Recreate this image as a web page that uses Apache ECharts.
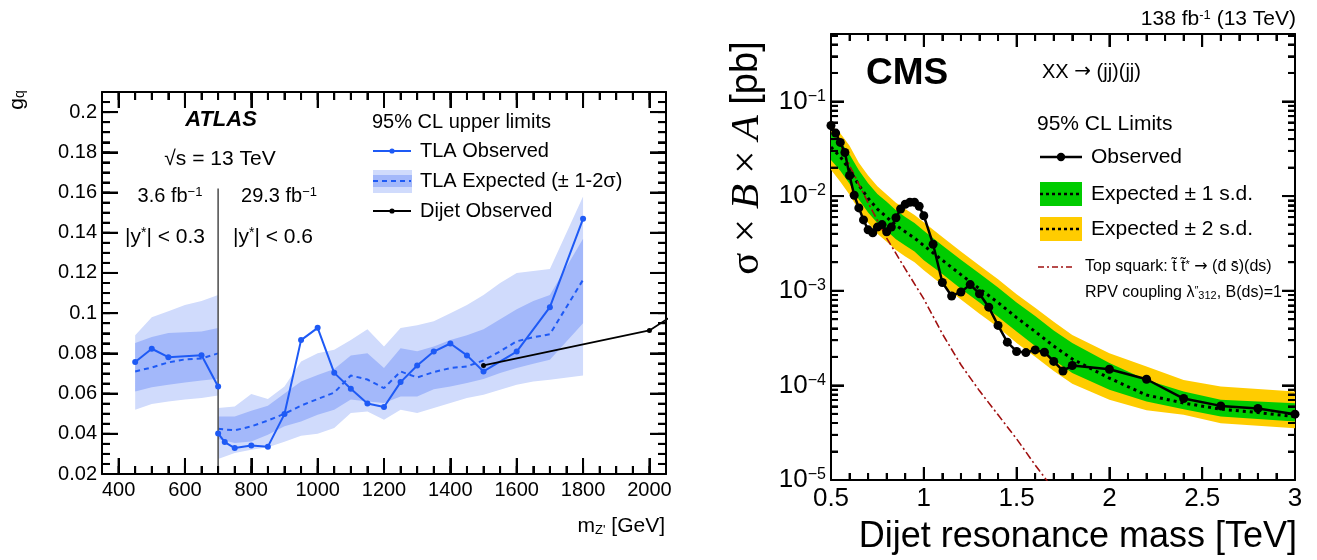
<!DOCTYPE html>
<html><head><meta charset="utf-8">
<script src="https://cdn.jsdelivr.net/npm/echarts@6/dist/echarts.min.js"></script>
<style>html,body{margin:0;padding:0;background:#fff}#c{width:1317px;height:560px}</style>
</head><body><div id="c"></div>
<script>
// ---------------- LEFT PANEL (ATLAS) DATA ----------------
const leftXRange = [350, 2050];
const leftYRange = [0.02, 0.21];
const leftXTicks = [400, 600, 800, 1000, 1200, 1400, 1600, 1800, 2000];
const leftYTicks = [0.02, 0.04, 0.06, 0.08, 0.1, 0.12, 0.14, 0.16, 0.18, 0.2];
const leftXMinor = [400,450,500,550,600,650,700,750,800,850,900,950,1000,1050,1100,1150,1200,1250,1300,1350,1400,1450,1500,1550,1600,1650,1700,1750,1800,1850,1900,1950,2000];
const leftYMinor = [0.025,0.03,0.035,0.04,0.045,0.05,0.055,0.06,0.065,0.07,0.075,0.08,0.085,0.09,0.095,0.1,0.105,0.11,0.115,0.12,0.125,0.13,0.135,0.14,0.145,0.15,0.155,0.16,0.165,0.17,0.175,0.18,0.185,0.19,0.195,0.2,0.205];

// TLA observed, 3.6 fb-1 region
const tlaObsX1 = [450, 500, 550, 650, 700];
const tlaObsY1 = [0.0757, 0.0823, 0.0781, 0.0791, 0.0635];
// TLA observed, 29.3 fb-1 region
const tlaObsX2 = [700, 720, 750, 800, 850, 900, 950, 1000, 1050, 1100, 1150, 1200, 1250, 1300, 1350, 1400, 1450, 1500, 1600, 1700, 1800];
const tlaObsY2 = [0.0402, 0.0359, 0.0329, 0.0342, 0.0336, 0.0498, 0.0866, 0.0927, 0.0703, 0.0624, 0.0551, 0.0533, 0.0657, 0.0740, 0.0809, 0.0849, 0.0790, 0.0710, 0.0809, 0.1030, 0.1469];

// TLA expected and bands, region 1
const tlaExpX1 = [450, 500, 550, 600, 650, 700];
const tlaExp1 = [0.071, 0.073, 0.0755, 0.077, 0.0775, 0.080];
const tlaS1hi1 = [0.0851, 0.0881, 0.0901, 0.0905, 0.0909, 0.0926];
const tlaS1lo1 = [0.0610, 0.0632, 0.0644, 0.0655, 0.0665, 0.0674];
const tlaS2hi1 = [0.089, 0.098, 0.101, 0.104, 0.106, 0.109];
const tlaS2lo1 = [0.052, 0.0548, 0.0561, 0.057, 0.0578, 0.0591];

// TLA expected and bands, region 2
const tlaExpX2 = [700, 750, 800, 850, 900, 950, 1000, 1050, 1100, 1150, 1200, 1250, 1300, 1350, 1400, 1450, 1500, 1550, 1600, 1650, 1700, 1800];
const tlaExp2 = [0.0425, 0.0417, 0.0437, 0.0466, 0.050, 0.054, 0.0573, 0.0605, 0.069, 0.067, 0.0627, 0.071, 0.068, 0.0707, 0.0727, 0.0735, 0.0765, 0.081, 0.086, 0.088, 0.0895, 0.1166];
const tlaS1hi2 = [0.0486, 0.0486, 0.0515, 0.054, 0.060, 0.066, 0.0693, 0.0722, 0.079, 0.080, 0.0727, 0.0826, 0.081, 0.0834, 0.0867, 0.089, 0.092, 0.097, 0.102, 0.106, 0.109, 0.137];
const tlaS1lo2 = [0.0374, 0.0354, 0.0362, 0.0395, 0.0437, 0.0461, 0.0495, 0.052, 0.057, 0.056, 0.0553, 0.0586, 0.0586, 0.0622, 0.0635, 0.0652, 0.0672, 0.0702, 0.0727, 0.0748, 0.0768, 0.095];
const tlaS2hi2 = [0.0528, 0.0536, 0.0598, 0.0573, 0.0635, 0.076, 0.080, 0.0818, 0.0867, 0.092, 0.0834, 0.0926, 0.094, 0.096, 0.100, 0.104, 0.109, 0.115, 0.120, 0.121, 0.122, 0.158];
const tlaS2lo2 = [0.0275, 0.0304, 0.032, 0.0333, 0.036, 0.039, 0.040, 0.0429, 0.0503, 0.0511, 0.047, 0.052, 0.0503, 0.0528, 0.0553, 0.0578, 0.0594, 0.0619, 0.0644, 0.066, 0.0669, 0.069];

// Dijet observed
const dijetX = [1500, 2000, 2100];
const dijetY = [0.0740, 0.0914, 0.102];

// Region separator
const tlaSplitMass = 700;
const tlaSplitRange = [0.02, 0.162];

// ---------------- RIGHT PANEL (CMS) DATA ----------------
const rightXRange = [0.5, 3];
const rightYRange = [1e-5, 0.516];
const rightXTicks = [1, 1.5, 2, 2.5];
const rightXMinor = [0.6,0.7,0.8,0.9,1.1,1.2,1.3,1.4,1.6,1.7,1.8,1.9,2.1,2.2,2.3,2.4,2.6,2.7,2.8,2.9];
const rightYTicks = [1e-4, 1e-3, 1e-2, 1e-1];
const rightYMinor = [2e-5,3e-5,4e-5,5e-5,6e-5,7e-5,8e-5,9e-5,2e-4,3e-4,4e-4,5e-4,6e-4,7e-4,8e-4,9e-4,2e-3,3e-3,4e-3,5e-3,6e-3,7e-3,8e-3,9e-3,0.02,0.03,0.04,0.05,0.06,0.07,0.08,0.09,0.2,0.3,0.4,0.5];

const cmsObsX = [0.5,0.525,0.55,0.575,0.6,0.625,0.65,0.675,0.7,0.725,0.75,0.775,0.8,0.825,0.85,0.875,0.9,0.925,0.95,0.975,1.0,1.05,1.1,1.15,1.2,1.25,1.3,1.35,1.4,1.45,1.5,1.55,1.6,1.65,1.7,1.75,1.8,2.0,2.2,2.4,2.6,2.8,3.0];
const cmsObsY = [0.0557,0.0463,0.0369,0.0289,0.0165,0.0102,0.0075,0.0056,0.0044,0.0041,0.0047,0.0050,0.0042,0.0047,0.0059,0.0073,0.0082,0.0086,0.0086,0.0078,0.0062,0.0031,0.00122,0.00088,0.00097,0.00116,0.00093,0.00067,0.00043,0.000286,0.000228,0.000222,0.000237,0.000224,0.000179,0.000142,0.000162,0.000148,0.000116,0.0000726,0.0000607,0.0000569,0.0000496];

const cmsBandX = [0.5,0.55,0.6,0.65,0.7,0.75,0.8,0.85,0.9,0.95,1.0,1.1,1.2,1.3,1.4,1.5,1.6,1.7,1.8,2.0,2.2,2.4,2.6,2.8,3.0];
const cmsExp  = [0.033,0.026,0.019,0.013,0.0095,0.0073,0.0060,0.0049,0.0042,0.0036,0.0030,0.0021,0.00148,0.00105,0.00075,0.00052,0.00037,0.00026,0.00019,0.000119,0.000079,0.000065,0.000056,0.0000516,0.0000468];
const cmsS1hi = [0.047,0.038,0.0275,0.0188,0.0137,0.0105,0.0087,0.0071,0.0060,0.0052,0.0043,0.0030,0.00213,0.00152,0.00108,0.00075,0.00054,0.00038,0.00028,0.000172,0.000114,0.0000859,0.0000703,0.0000674,0.0000648];
const cmsS1lo = [0.024,0.0185,0.0135,0.0092,0.0067,0.0052,0.0043,0.0035,0.0030,0.0026,0.0021,0.0015,0.00105,0.00075,0.00053,0.00037,0.00026,0.000185,0.000135,0.0000896,0.0000674,0.000056,0.0000468,0.000044,0.0000414];
const cmsS2hi = [0.056,0.046,0.034,0.0225,0.0165,0.0127,0.0104,0.0085,0.0073,0.0063,0.0053,0.0037,0.0026,0.00185,0.00132,0.00092,0.00066,0.00047,0.00034,0.000218,0.000158,0.000114,0.000097,0.0000918,0.0000859];
const cmsS2lo = [0.019,0.0142,0.0103,0.0071,0.0052,0.0040,0.0033,0.0027,0.0023,0.0020,0.00165,0.00115,0.00081,0.00057,0.00041,0.00028,0.00020,0.000142,0.000104,0.0000703,0.0000546,0.0000488,0.0000398,0.0000374,0.0000353];

const stopX = [0.5,0.6,0.7,0.8,0.9,1.0,1.1,1.2,1.3,1.4,1.5,1.6,1.7];
const stopY = [0.0595,0.0209,0.0085,0.0036,0.0017,0.00082,0.00035,0.000165,0.0000875,0.0000488,0.0000272,0.0000144,0.0000079];

// ---------------- STYLE ----------------
const FONT = 'Liberation Sans, Arial, Helvetica, sans-serif';
const SERIF = 'Liberation Serif, Times New Roman, serif';
const SYM = 'DejaVu Sans, sans-serif';
const BLUE = '#1e5af5';
const LIGHT = '#d0dbfc';
const DARK = '#a3b8fa';
const GREEN = '#00cc00';
const YELLOW = '#ffcc00';
const RED = '#a01010';
const LEFT_GRID = { left: 102, top: 92, width: 564, height: 382 };
const RIGHT_GRID = { left: 831, top: 34, width: 464, height: 446 };

function pairs(xs, ys) { return xs.map((x, i) => [x, ys[i]]); }

function bandSeries(xi, yi, xs, lo, hi, color, z) {
  return {
    type: 'custom', xAxisIndex: xi, yAxisIndex: yi, silent: true, z: z,
    data: xs.map((x, i) => [x, lo[i], hi[i]]),
    renderItem: function (params, api) {
      if (params.dataIndex !== 0) return null;
      const pts = [];
      for (let i = 0; i < xs.length; i++) pts.push(api.coord([xs[i], hi[i]]));
      for (let i = xs.length - 1; i >= 0; i--) pts.push(api.coord([xs[i], lo[i]]));
      return { type: 'polygon', shape: { points: pts }, style: { fill: color } };
    }
  };
}

// tick marks as thin filled rectangles on all four sides, placed through the axis scales
function tickSeries(xi, yi, xr, yr, xMinor, xMajor, yMinor, yMajor, lenMinor, lenMajor, w) {
  return {
    type: 'custom', xAxisIndex: xi, yAxisIndex: yi, silent: true, z: 100,
    data: [[(xr[0] + xr[1]) / 2, yr[1]]],
    renderItem: function (params, api) {
      const bl = api.coord([xr[0], yr[0]]);
      const tr = api.coord([xr[1], yr[1]]);
      const ch = [];
      function xt(v, len) {
        const px = api.coord([v, yr[0]])[0];
        ch.push({ type: 'rect', shape: { x: px - w / 2, y: bl[1] - len, width: w, height: len }, style: { fill: '#000' } });
        ch.push({ type: 'rect', shape: { x: px - w / 2, y: tr[1], width: w, height: len }, style: { fill: '#000' } });
      }
      function yt(v, len) {
        const py = api.coord([xr[0], v])[1];
        ch.push({ type: 'rect', shape: { x: bl[0], y: py - w / 2, width: len, height: w }, style: { fill: '#000' } });
        ch.push({ type: 'rect', shape: { x: tr[0] - len, y: py - w / 2, width: len, height: w }, style: { fill: '#000' } });
      }
      xMinor.forEach(v => xt(v, lenMinor));
      xMajor.forEach(v => xt(v, lenMajor));
      yMinor.forEach(v => yt(v, lenMinor));
      yMajor.forEach(v => yt(v, lenMajor));
      return { type: 'group', children: ch };
    }
  };
}

// the same tick marks as short segments of a 'lines' series (lengths converted from pixels with the grid size)
function linearTickSegs(xr, yr, grid, xMinor, xMajor, yMinor, yMajor, lenMinor, lenMajor) {
  const dyPx = (yr[1] - yr[0]) / grid.height, dxPx = (xr[1] - xr[0]) / grid.width;
  const segs = [];
  function xt(v, len) { segs.push([[v, yr[0]], [v, yr[0] + len * dyPx]]); segs.push([[v, yr[1]], [v, yr[1] - len * dyPx]]); }
  function yt(v, len) { segs.push([[xr[0], v], [xr[0] + len * dxPx, v]]); segs.push([[xr[1], v], [xr[1] - len * dxPx, v]]); }
  xMinor.forEach(v => xt(v, lenMinor)); xMajor.forEach(v => xt(v, lenMajor));
  yMinor.forEach(v => yt(v, lenMinor)); yMajor.forEach(v => yt(v, lenMajor));
  return segs;
}
function logTickSegs(xr, yr, grid, xMinor, xMajor, yMinor, yMajor, lenMinor, lenMajor) {
  const decPx = grid.height / Math.log10(yr[1] / yr[0]), dxPx = (xr[1] - xr[0]) / grid.width;
  const segs = [];
  function xt(v, len) { const f = Math.pow(10, len / decPx); segs.push([[v, yr[0]], [v, yr[0] * f]]); segs.push([[v, yr[1]], [v, yr[1] / f]]); }
  function yt(v, len) { segs.push([[xr[0], v], [xr[0] + len * dxPx, v]]); segs.push([[xr[1], v], [xr[1] - len * dxPx, v]]); }
  xMinor.forEach(v => xt(v, lenMinor)); xMajor.forEach(v => xt(v, lenMajor));
  yMinor.forEach(v => yt(v, lenMinor)); yMajor.forEach(v => yt(v, lenMajor));
  return segs;
}
function tickLinesSeries(xi, yi, segs) {
  return {
    type: 'lines', coordinateSystem: 'cartesian2d', xAxisIndex: xi, yAxisIndex: yi, silent: true, z: 101,
    polyline: false, large: false, clip: false, effect: { show: false }, symbol: 'none',
    lineStyle: { color: '#000', width: 2, opacity: 1, curveness: 0 },
    data: segs.map(c => ({ coords: c }))
  };
}

function lineSeries(xi, yi, xs, ys, color, width, type, symSize, z) {
  return {
    type: 'line', xAxisIndex: xi, yAxisIndex: yi, data: pairs(xs, ys), z: z,
    symbol: symSize ? 'circle' : 'none', symbolSize: symSize || 0, showSymbol: !!symSize,
    itemStyle: { color: color, borderWidth: 0 },
    lineStyle: { color: color, width: width, type: type },
    clip: true, silent: true, animation: false
  };
}

const tickStyle = { color: '#000', width: 2 };
function axisBase(extra) {
  return Object.assign({ axisLine: { show: true, onZero: false, lineStyle: { color: '#000', width: 2 } },
    splitLine: { show: false } }, extra);
}

function txt(x, y, text, size, opts) {
  opts = opts || {};
  return {
    type: 'text', x: x, y: y, rotation: opts.rotation || 0, silent: true, z: 50,
    style: {
      x: 0, y: 0, text: text, fill: '#000', fontSize: size,
      fontFamily: opts.family || FONT, fontWeight: opts.weight || 'normal', fontStyle: opts.style || 'normal',
      align: opts.align || 'left', verticalAlign: 'middle', rich: opts.rich || {}
    }
  };
}
function supRich(size) { return { s: { fontSize: size, verticalAlign: 'top', fontFamily: FONT, fill: '#000' } }; }
function subRich(size) { return { b: { fontSize: size, verticalAlign: 'bottom', fontFamily: FONT, fill: '#000' } }; }

const chart = echarts.init(document.getElementById('c'));

const graphics = [
  txt(221, 120, 'ATLAS', 22, { align: 'center', weight: 'bold', style: 'italic' }),
  txt(220, 159, '\u221As = 13 TeV', 21, { align: 'center' }),
  txt(170, 196, '3.6 fb{s|\u22121}', 20, { align: 'center', rich: supRich(13) }),
  txt(279, 196, '29.3 fb{s|\u22121}', 20, { align: 'center', rich: supRich(13) }),
  txt(165, 237, '|y{s|*}| < 0.3', 21, { align: 'center', rich: supRich(14) }),
  txt(273, 237, '|y{s|*}| < 0.6', 21, { align: 'center', rich: supRich(14) }),
  txt(17, 100, 'g{b|q}', 21, { rotation: Math.PI / 2, align: 'center', rich: subRich(14) }),
  txt(665, 526, 'm{b|Z\'} [GeV]', 21, { align: 'right', rich: subRich(13) }),
  txt(372, 122, '95% CL upper limits', 20),
  { type: 'line', silent: true, z: 50, shape: { x1: 373, y1: 151, x2: 411, y2: 151 }, style: { stroke: BLUE, lineWidth: 2 } },
  { type: 'circle', silent: true, z: 51, shape: { cx: 392, cy: 151, r: 2.6 }, style: { fill: BLUE } },
  txt(420, 151, 'TLA Observed', 20),
  { type: 'rect', silent: true, z: 50, shape: { x: 373, y: 170, width: 39, height: 23 }, style: { fill: LIGHT } },
  { type: 'rect', silent: true, z: 50, shape: { x: 373, y: 175, width: 39, height: 12 }, style: { fill: DARK } },
  { type: 'line', silent: true, z: 51, shape: { x1: 373, y1: 181, x2: 411, y2: 181 }, style: { stroke: BLUE, lineWidth: 2, lineDash: [5, 4] } },
  txt(420, 181, 'TLA Expected (\u00b1 1-2\u03c3)', 20),
  { type: 'line', silent: true, z: 50, shape: { x1: 373, y1: 211, x2: 411, y2: 211 }, style: { stroke: '#000', lineWidth: 1.8 } },
  { type: 'circle', silent: true, z: 51, shape: { cx: 392, cy: 211, r: 2.6 }, style: { fill: '#000' } },
  txt(420, 211, 'Dijet Observed', 20),
  txt(1296, 19, '138 fb{s|-1} (13 TeV)', 21, { align: 'right', rich: supRich(13) }),
  txt(866, 74, 'CMS', 37, { weight: 'bold' }),
  txt(1042, 72, 'XX {a|\u2192} (jj)(jj)', 20, { rich: { a: { fontSize: 20, fontFamily: SYM, fill: '#000' } } }),
  txt(1037, 124, '95% CL Limits', 21),
  { type: 'line', silent: true, z: 50, shape: { x1: 1040, y1: 157, x2: 1082, y2: 157 }, style: { stroke: '#000', lineWidth: 2.5 } },
  { type: 'circle', silent: true, z: 51, shape: { cx: 1061, cy: 157, r: 4.2 }, style: { fill: '#000' } },
  txt(1091, 157, 'Observed', 21),
  { type: 'rect', silent: true, z: 50, shape: { x: 1040, y: 182, width: 42, height: 24 }, style: { fill: GREEN } },
  { type: 'line', silent: true, z: 51, shape: { x1: 1040, y1: 194, x2: 1082, y2: 194 }, style: { stroke: '#000', lineWidth: 2.5, lineDash: [3, 3] } },
  txt(1091, 194, 'Expected \u00b1 1 s.d.', 21),
  { type: 'rect', silent: true, z: 50, shape: { x: 1040, y: 217, width: 42, height: 24 }, style: { fill: YELLOW } },
  { type: 'line', silent: true, z: 51, shape: { x1: 1040, y1: 229, x2: 1082, y2: 229 }, style: { stroke: '#000', lineWidth: 2.5, lineDash: [3, 3] } },
  txt(1091, 229, 'Expected \u00b1 2 s.d.', 21),
  { type: 'line', silent: true, z: 50, shape: { x1: 1038, y1: 267, x2: 1074, y2: 267 }, style: { stroke: RED, lineWidth: 1.4, lineDash: [6, 3, 2, 3] } },
  txt(1085, 267, 'Top squark: t\u0303 t\u0303{s|*} {a|\u2192} (d\u0304 s\u0304)(ds)', 16, { rich: { s: { fontSize: 11, verticalAlign: 'top', fontFamily: FONT, fill: '#000' }, a: { fontSize: 16, fontFamily: SYM, fill: '#000' } } }),
  txt(1085, 293, 'RPV coupling \u03bb{s|\u2033}{b|312}, B(ds)=1', 16, { rich: { s: { fontSize: 11, verticalAlign: 'top', fontFamily: FONT, fill: '#000' }, b: { fontSize: 11, verticalAlign: 'bottom', fontFamily: FONT, fill: '#000' } } }),
  txt(747, 158, '{g|\u03c3 \u00d7 }{i|B}{g| \u00d7 }{i|A}{n| [pb]}', 41, { rotation: Math.PI / 2, align: 'center', rich: {
    g: { fontSize: 41, fontFamily: SERIF, fill: '#000' },
    i: { fontSize: 41, fontFamily: SERIF, fontStyle: 'italic', fill: '#000' },
    n: { fontSize: 38, fontFamily: FONT, fill: '#000' } } }),
  txt(1297, 537, 'Dijet resonance mass [TeV]', 36, { align: 'right' })
];

const leftTick = { show: true, inside: true, length: 16, customValues: leftXTicks, lineStyle: tickStyle };
const leftYTick = { show: true, inside: true, length: 16, customValues: leftYTicks, lineStyle: tickStyle };
const rightTick = { show: true, inside: true, length: 13, lineStyle: tickStyle };
const rightMinor = { show: true, splitNumber: 5, length: 7, lineStyle: tickStyle };

const option = {
  animation: false,
  grid: [LEFT_GRID, RIGHT_GRID],
  xAxis: [
    axisBase({ type: 'value', gridIndex: 0, position: 'bottom', min: leftXRange[0], max: leftXRange[1], axisTick: leftTick,
      axisLabel: { customValues: leftXTicks, color: '#000', fontSize: 20, fontFamily: FONT, margin: 6, formatter: function (v) { return String(v); } } }),
    axisBase({ type: 'value', gridIndex: 0, position: 'top', min: leftXRange[0], max: leftXRange[1], axisTick: leftTick, axisLabel: { show: false } }),
    axisBase({ type: 'value', gridIndex: 1, position: 'bottom', min: rightXRange[0], max: rightXRange[1], interval: 0.5,
      axisTick: rightTick, minorTick: rightMinor,
      axisLabel: { color: '#000', fontSize: 26, fontFamily: FONT, margin: 6 } }),
    axisBase({ type: 'value', gridIndex: 1, position: 'top', min: rightXRange[0], max: rightXRange[1], interval: 0.5,
      axisTick: rightTick, minorTick: rightMinor, axisLabel: { show: false } })
  ],
  yAxis: [
    axisBase({ type: 'value', gridIndex: 0, position: 'left', min: leftYRange[0], max: leftYRange[1], axisTick: leftYTick,
      axisLabel: { customValues: leftYTicks, color: '#000', fontSize: 20, fontFamily: FONT, margin: 5 } }),
    axisBase({ type: 'value', gridIndex: 0, position: 'right', min: leftYRange[0], max: leftYRange[1], axisTick: leftYTick, axisLabel: { show: false } }),
    axisBase({ type: 'log', logBase: 10, gridIndex: 1, position: 'left', min: rightYRange[0], max: rightYRange[1], axisTick: rightTick,
      axisLabel: { color: '#000', fontSize: 26, fontFamily: FONT, margin: 5,
        formatter: function (v) {
          const l = Math.log10(v); const e = Math.round(l);
          if (Math.abs(l - e) > 1e-3) return '';
          return '10{s|' + (e < 0 ? '\u2212' : '') + Math.abs(e) + '}';
        },
        rich: { s: { fontSize: 16, verticalAlign: 'top', fontFamily: FONT, color: '#000' } } } }),
    axisBase({ type: 'log', logBase: 10, gridIndex: 1, position: 'right', min: rightYRange[0], max: rightYRange[1], axisTick: rightTick, axisLabel: { show: false } })
  ],
  series: [
    bandSeries(0, 0, tlaExpX1, tlaS2lo1, tlaS2hi1, LIGHT, 1),
    bandSeries(0, 0, tlaExpX2, tlaS2lo2, tlaS2hi2, LIGHT, 1),
    bandSeries(0, 0, tlaExpX1, tlaS1lo1, tlaS1hi1, DARK, 2),
    bandSeries(0, 0, tlaExpX2, tlaS1lo2, tlaS1hi2, DARK, 2),
    lineSeries(0, 0, tlaExpX1, tlaExp1, BLUE, 2, [5, 4], 0, 3),
    lineSeries(0, 0, tlaExpX2, tlaExp2, BLUE, 2, [5, 4], 0, 3),
    lineSeries(0, 0, [tlaSplitMass, tlaSplitMass], tlaSplitRange, '#555', 1.6, 'solid', 0, 4),
    lineSeries(0, 0, tlaObsX1, tlaObsY1, BLUE, 2, 'solid', 6, 5),
    lineSeries(0, 0, tlaObsX2, tlaObsY2, BLUE, 2, 'solid', 6, 5),
    lineSeries(0, 0, dijetX, dijetY, '#000', 1.8, 'solid', 5, 6),
    tickSeries(0, 0, leftXRange, leftYRange, leftXMinor, leftXTicks, leftYMinor, leftYTicks.slice(1), 8, 16, 2),
    tickLinesSeries(0, 0, linearTickSegs(leftXRange, leftYRange, LEFT_GRID, leftXMinor, leftXTicks, leftYMinor, leftYTicks.slice(1), 8, 16)),
    bandSeries(2, 2, cmsBandX, cmsS2lo, cmsS2hi, YELLOW, 1),
    bandSeries(2, 2, cmsBandX, cmsS1lo, cmsS1hi, GREEN, 2),
    lineSeries(2, 2, cmsBandX, cmsExp, '#000', 3, [3, 4], 0, 3),
    lineSeries(2, 2, stopX, stopY, RED, 1.6, [8, 3, 2, 3], 0, 4),
    lineSeries(2, 2, cmsObsX, cmsObsY, '#000', 2.5, 'solid', 9, 5),
    tickSeries(2, 2, rightXRange, rightYRange, rightXMinor, rightXTicks, rightYMinor, rightYTicks, 7, 13, 2),
    tickLinesSeries(2, 2, logTickSegs(rightXRange, rightYRange, RIGHT_GRID, rightXMinor, rightXTicks, rightYMinor, rightYTicks, 7, 13))
  ],
  graphic: graphics
};
chart.setOption(option);
</script></body></html>
